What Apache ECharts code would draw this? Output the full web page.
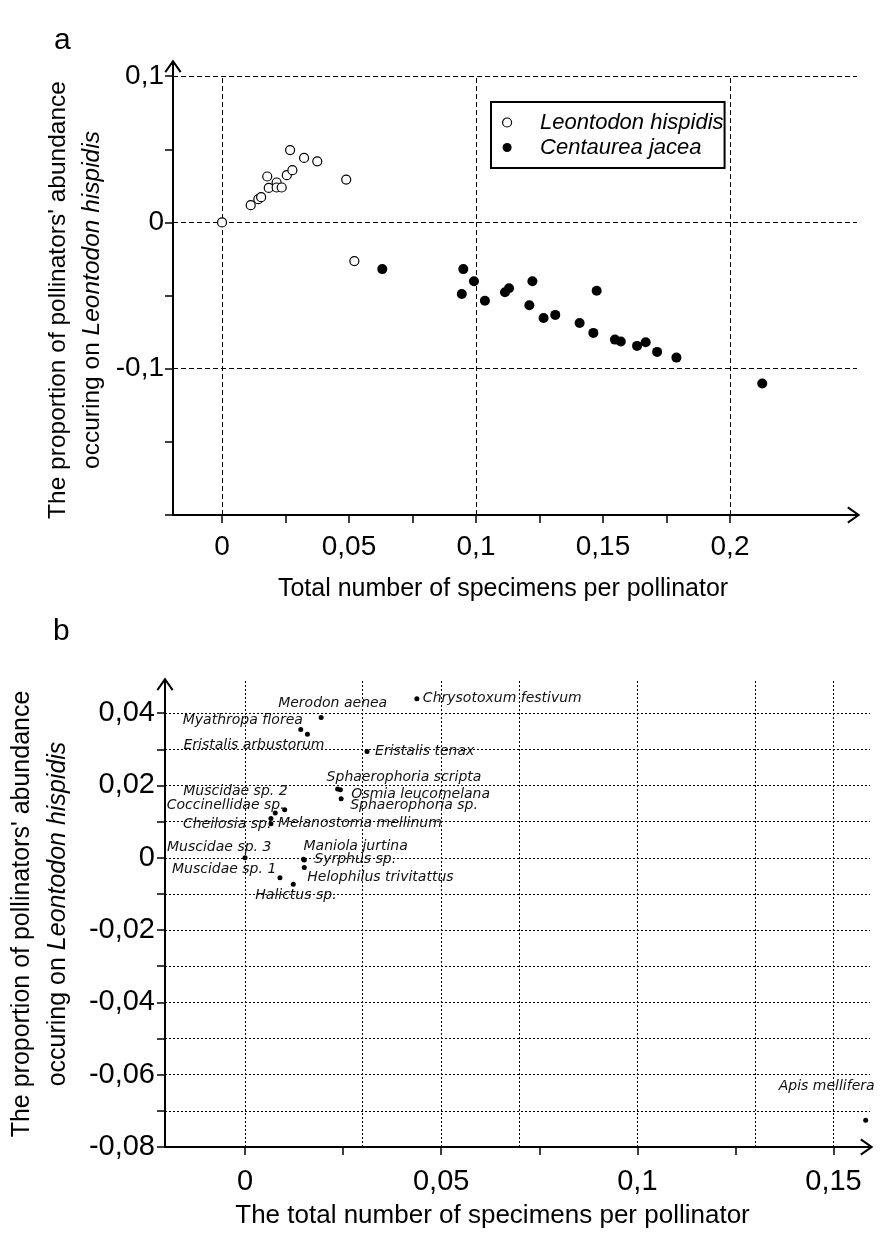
<!DOCTYPE html>
<html>
<head>
<meta charset="utf-8">
<title>Pollinators on Leontodon hispidis</title>
<script src="https://cdn.jsdelivr.net/npm/echarts@6.0.0/dist/echarts.min.js"></script>
<style>
  html, body { margin: 0; padding: 0; background: #fff; }
  #chart { width: 880px; height: 1243px; }
</style>
</head>
<body>
<div id="chart"></div>
<script>
// panel a - open circles
const leontodonX = [0, 0.0113, 0.0143, 0.0154, 0.0178, 0.0184, 0.0215, 0.0215, 0.0235, 0.0255, 0.0277, 0.0268, 0.0323, 0.0375, 0.0489, 0.0521];
const leontodonY = [0, 0.0118, 0.0159, 0.0173, 0.0314, 0.0236, 0.0273, 0.0239, 0.0239, 0.0323, 0.0357, 0.0495, 0.0441, 0.0418, 0.0293, -0.0264];
// panel a - filled circles
const centaureaX = [0.0631, 0.095, 0.0992, 0.0944, 0.1035, 0.1114, 0.113, 0.1222, 0.121, 0.1266, 0.1312, 0.1408, 0.1462, 0.1475, 0.1547, 0.157, 0.1634, 0.1668, 0.1713, 0.1789, 0.2127];
const centaureaY = [-0.0319, -0.0319, -0.0402, -0.0489, -0.0535, -0.0477, -0.045, -0.0402, -0.0566, -0.0653, -0.0632, -0.0687, -0.0755, -0.0467, -0.0801, -0.0814, -0.0844, -0.0819, -0.0885, -0.0924, -0.1101];

// panel b - species
const speciesNames = [
  "Chrysotoxum festivum", "Merodon aenea", "Myathropa florea", "Eristalis arbustorum",
  "Eristalis tenax", "Sphaerophoria scripta", "Osmia leucomelana", "Sphaerophoria sp.",
  "Muscidae sp. 2", "Coccinellidae sp.", "Cheilosia sp.", "Melanostoma mellinum",
  "Muscidae sp. 3", "Maniola jurtina", "Syrphus sp.", "Helophilus trivitattus",
  "Muscidae sp. 1", "Halictus sp.", "Apis mellifera",
];
const speciesX = [0.0438, 0.0194, 0.0142, 0.0159, 0.0311, 0.0236, 0.0243, 0.0245, 0.0077, 0.0101, 0.0066, 0.0066, 0, 0.0149, 0.0151, 0.0151, 0.0089, 0.0123, 0.1582];
const speciesY = [0.044, 0.0388, 0.0355, 0.0342, 0.0294, 0.019, 0.0188, 0.0163, 0.0124, 0.0133, 0.0094, 0.0109, 0, -0.0004, -0.0006, -0.0027, -0.0055, -0.0073, -0.0726];

// ticks, labels, grid lines
const aXTicks = [0, 0.025, 0.05, 0.075, 0.1, 0.125, 0.15, 0.175, 0.2];
const aXLabels = [0, 0.05, 0.1, 0.15, 0.2];
const aYTicks = [0.1, 0.05, 0, -0.05, -0.1, -0.15, -0.2];
const aYLabels = [0.1, 0, -0.1];
const aXGrid = [0, 0.1, 0.2];
const aYGrid = [0.1, 0, -0.1];
const bXTicks = [0, 0.025, 0.05, 0.075, 0.1, 0.125, 0.15];
const bXLabels = [0, 0.05, 0.1, 0.15];
const bYTicks = [0.04, 0.03, 0.02, 0.01, 0, -0.01, -0.02, -0.03, -0.04, -0.05, -0.06, -0.07, -0.08];
const bYLabels = [0.04, 0.02, 0, -0.02, -0.04, -0.06, -0.08];
const bXGrid = [0, 0.025, 0.05, 0.075, 0.1, 0.125, 0.15];
const bYGrid = [0.04, 0.03, 0.02, 0.01, 0, -0.01, -0.02, -0.03, -0.04, -0.05, -0.06, -0.07];

// label placement for panel b (px from the dot to the text's left/middle)
const labelOffset = {
  "Chrysotoxum festivum": [6, 0],
  "Merodon aenea": [-43, -14],
  "Myathropa florea": [-118, -9],
  "Eristalis arbustorum": [-124, 11],
  "Eristalis tenax": [8, 0],
  "Sphaerophoria scripta": [-11, -12],
  "Osmia leucomelana": [11, 5],
  "Sphaerophoria sp.": [9, 7],
  "Muscidae sp. 2": [-92, -22],
  "Coccinellidae sp.": [-118, -4],
  "Cheilosia sp.": [-88, 1],
  "Melanostoma mellinum": [7, 5],
  "Muscidae sp. 3": [-78, -10],
  "Maniola jurtina": [0, -13],
  "Syrphus sp.": [10, -1],
  "Helophilus trivitattus": [3, 10],
  "Muscidae sp. 1": [-108, -8],
  "Halictus sp.": [-38, 11],
  "Apis mellifera": [-87, -34],
};

const FONT = "Liberation Sans";
const DOT = 5;
const comma = (v) => String(v).replace(".", ",");
const zip = (xs, ys) => xs.map((x, i) => [x, ys[i]]);
const arrow = "path://M8.5,0 L17,12 L15.37,13.16 L8.5,3.46 L1.63,13.16 L0,12 Z";

function axis(gridIndex, min, max, ticks, labels, labelSize, margin, extra) {
  return Object.assign({
    type: "value",
    gridIndex,
    min,
    max,
    splitLine: { show: false },
    axisLine: {
      onZero: false,
      symbol: ["none", arrow],
      symbolSize: [17, 13.16],
      symbolOffset: [0, -3.2],
      lineStyle: { color: "#000", width: 2 },
    },
    axisTick: { customValues: ticks, length: 8, lineStyle: { color: "#000", width: 1.5 } },
    axisLabel: {
      customValues: labels,
      formatter: comma,
      color: "#000",
      fontFamily: FONT,
      fontSize: labelSize,
      margin,
    },
    nameLocation: "middle",
    nameMoveOverlap: false,
  }, extra);
}

function gridLines(xs, ys, type, xSpan) {
  const data = [];
  xs.forEach((v) => {
    if (xSpan) data.push([{ coord: [v, xSpan[0]] }, { coord: [v, xSpan[1]] }]);
    else data.push({ xAxis: v });
  });
  ys.forEach((v) => data.push({ yAxis: v }));
  return {
    silent: true,
    symbol: "none",
    z: 1,
    label: { show: false },
    lineStyle: { color: "#000", width: 1, type, opacity: 1 },
    emphasis: { disabled: true },
    data,
  };
}

const yTitle = (size, lh, padding) => ({
  fontFamily: FONT,
  fontSize: size,
  lineHeight: lh,
  color: "#000",
  padding,
  rich: { i: { fontFamily: FONT, fontSize: size, lineHeight: lh, fontStyle: "italic", color: "#000" } },
});

const option = {
  animation: false,
  backgroundColor: "#fff",
  title: [
    { text: "a", left: 54, top: 26, padding: 0, textStyle: { fontFamily: FONT, fontSize: 30, fontWeight: "normal", color: "#000" } },
    { text: "b", left: 53, top: 617, padding: 0, textStyle: { fontFamily: FONT, fontSize: 30, fontWeight: "normal", color: "#000" } },
  ],
  legend: {
    left: 491,
    top: 102,
    orient: "vertical",
    borderColor: "#000",
    borderWidth: 2,
    padding: [8, 1, 8, 11],
    itemGap: 0,
    itemWidth: 30,
    itemHeight: 9,
    textStyle: { fontFamily: FONT, fontSize: 22, fontStyle: "italic", color: "#000", lineHeight: 25, padding: [0, 0, 0, 13] },
    data: [
      { name: "Leontodon hispidis", itemStyle: { color: "#fff", borderColor: "#000", borderWidth: 1.2 } },
      { name: "Centaurea jacea", itemStyle: { color: "#000", borderWidth: 0 } },
    ],
    selectedMode: false,
  },
  grid: [
    { left: 173, right: 23, top: 63, bottom: 728, outerBoundsMode: "none" },
    { left: 165, right: 10, top: 681, bottom: 96, outerBoundsMode: "none" },
  ],
  xAxis: [
    axis(0, -0.0193, 0.25, aXTicks, aXLabels, 28, 18, {
      name: "Total number of specimens per pollinator",
      nameGap: 62,
      nameTextStyle: { fontFamily: FONT, fontSize: 25, color: "#000", padding: [0, 24, 0, 0] },
    }),
    axis(1, -0.0204, 0.1593, bXTicks, bXLabels, 29, 20, {
      name: "The total number of specimens per pollinator",
      nameGap: 56,
      nameTextStyle: { fontFamily: FONT, fontSize: 26, color: "#000", padding: [0, 50, 0, 0] },
    }),
  ],
  yAxis: [
    axis(0, -0.2, 0.109, aYTicks, aYLabels, 28, 9, {
      name: "The proportion of pollinators' abundance\noccuring on {i|Leontodon hispidis}",
      nameGap: 64,
      nameRotate: 90,
      nameTextStyle: yTitle(24.5, 34, [0, 22, 0, 0]),
    }),
    axis(1, -0.08, 0.0489, bYTicks, bYLabels, 29, 10, {
      name: "The proportion of pollinators' abundance\noccuring on {i|Leontodon hispidis}",
      nameGap: 89,
      nameRotate: 90,
      nameTextStyle: yTitle(25, 36),
    }),
  ],
  series: [
    {
      name: "Leontodon hispidis",
      type: "scatter",
      xAxisIndex: 0,
      yAxisIndex: 0,
      z: 5,
      symbolSize: 9,
      itemStyle: { color: "#fff", borderColor: "#000", borderWidth: 1.2, opacity: 1 },
      data: zip(leontodonX, leontodonY),
      markLine: gridLines(aXGrid, aYGrid, [5, 3], [-0.2, 0.1]),
    },
    {
      name: "Centaurea jacea",
      type: "scatter",
      xAxisIndex: 0,
      yAxisIndex: 0,
      z: 5,
      symbolSize: 10,
      itemStyle: { color: "#000", opacity: 1 },
      data: zip(centaureaX, centaureaY),
    },
    {
      name: "Pollinators",
      type: "scatter",
      xAxisIndex: 1,
      yAxisIndex: 1,
      z: 5,
      symbolSize: DOT,
      itemStyle: { color: "#000", opacity: 1 },
      data: speciesNames.map((n, i) => ({
        name: n,
        value: [speciesX[i], speciesY[i]],
        label: {
          position: [DOT / 2 + labelOffset[n][0], DOT / 2 + labelOffset[n][1]],
          align: "left",
          verticalAlign: "middle",
        },
      })),
      label: {
        show: true,
        align: "left",
        verticalAlign: "middle",
        formatter: (p) => p.name,
        fontFamily: "DejaVu Sans",
        fontStyle: "italic",
        fontSize: 14,
        color: "#111",
      },
      labelLayout: { hideOverlap: false },
      markLine: gridLines(bXGrid, bYGrid, [2, 2]),
    },
  ],
};

const dom = document.getElementById("chart");
echarts.init(dom, null, { renderer: "canvas" }).setOption(option);
</script>
</body>
</html>
